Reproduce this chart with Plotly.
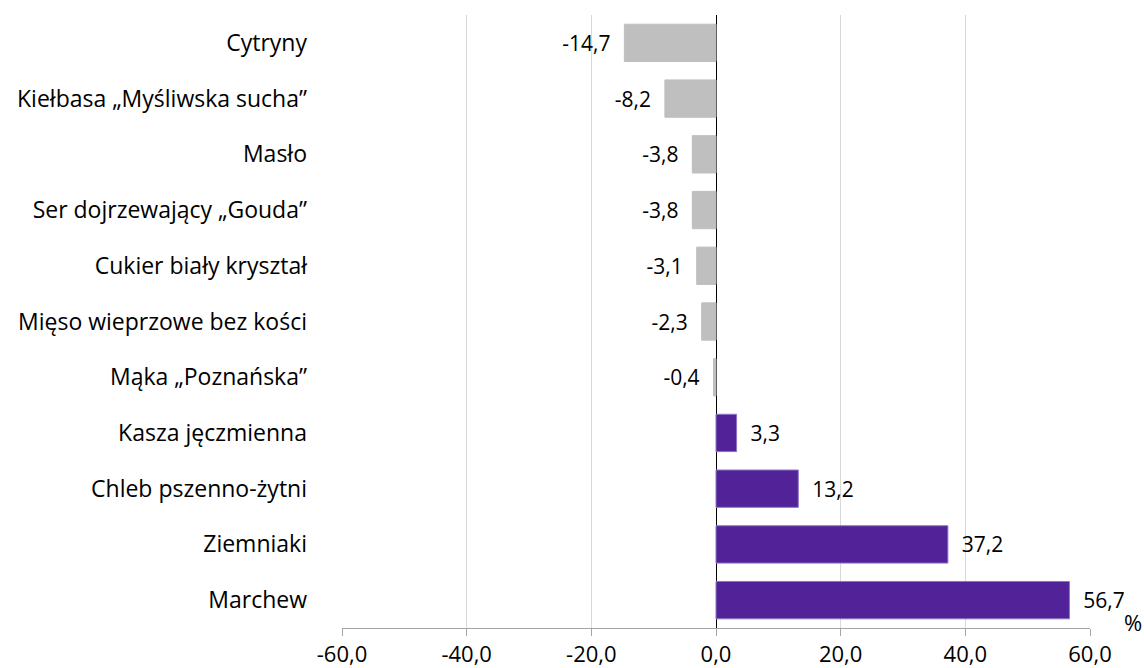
import plotly.graph_objects as go

categories = [
    "Cytryny",
    "Kiełbasa „Myśliwska sucha”",
    "Masło",
    "Ser dojrzewający „Gouda”",
    "Cukier biały kryształ",
    "Mięso wieprzowe bez kości",
    "Mąka „Poznańska”",
    "Kasza jęczmienna",
    "Chleb pszenno-żytni",
    "Ziemniaki",
    "Marchew",
]
values = [-14.7, -8.2, -3.8, -3.8, -3.1, -2.3, -0.4, 3.3, 13.2, 37.2, 56.7]
tick_vals = [-60, -40, -20, 0, 20, 40, 60]

def fmt(v):
    return f"{v:.1f}".replace(".", ",")

tick_text = [fmt(t) for t in tick_vals]
colors = ["#bfbfbf" if v < 0 else "#522398" for v in values]
line_colors = ["#bfbfbf" if v < 0 else "#8c74c4" for v in values]
nb = "\u00a0\u00a0"
labels = [(fmt(v) + nb) if v < 0 else (nb + fmt(v)) for v in values]

fig = go.Figure(go.Bar(
    x=values,
    y=categories,
    orientation="h",
    marker=dict(color=colors, line=dict(color=line_colors, width=1)),
    text=labels,
    textposition="outside",
    textfont=dict(color="#000000", size=21),
    cliponaxis=False,
))

fig.update_layout(
    width=1144, height=668,
    margin=dict(l=342, r=54, t=15, b=40, autoexpand=False),
    paper_bgcolor="white", plot_bgcolor="white",
    font=dict(family="Open Sans, Noto Sans, sans-serif", size=21, color="#000000"),
    bargap=0.33,
    separators=", ",
    showlegend=False,
)
fig.update_xaxes(
    range=[-60, 60],
    tickvals=tick_vals,
    ticktext=tick_text,
    automargin=False,
    showgrid=True, gridcolor="#d9d9d9", gridwidth=1,
    zeroline=True, zerolinecolor="#000000", zerolinewidth=1,
    showline=True, linecolor="#a6a6a6", linewidth=1,
    ticks="outside", ticklen=7, tickcolor="#a6a6a6",
    ticklabelstandoff=0,
    tickfont=dict(size=22),
)
fig.update_yaxes(
    autorange="reversed",
    automargin=False,
    showgrid=False,
    ticks="",
    ticklabelstandoff=34,
    tickfont=dict(size=23),
)
fig.add_annotation(
    text="%", xref="paper", yref="paper", x=1.0, y=0.0,
    xanchor="left", yanchor="middle", xshift=32, yshift=6,
    showarrow=False, font=dict(size=22),
)

fig.write_html(
    "out.html",
    config={"displayModeBar": False},
    post_script="document.body.style.margin='0';document.body.style.overflow='hidden';",
)
